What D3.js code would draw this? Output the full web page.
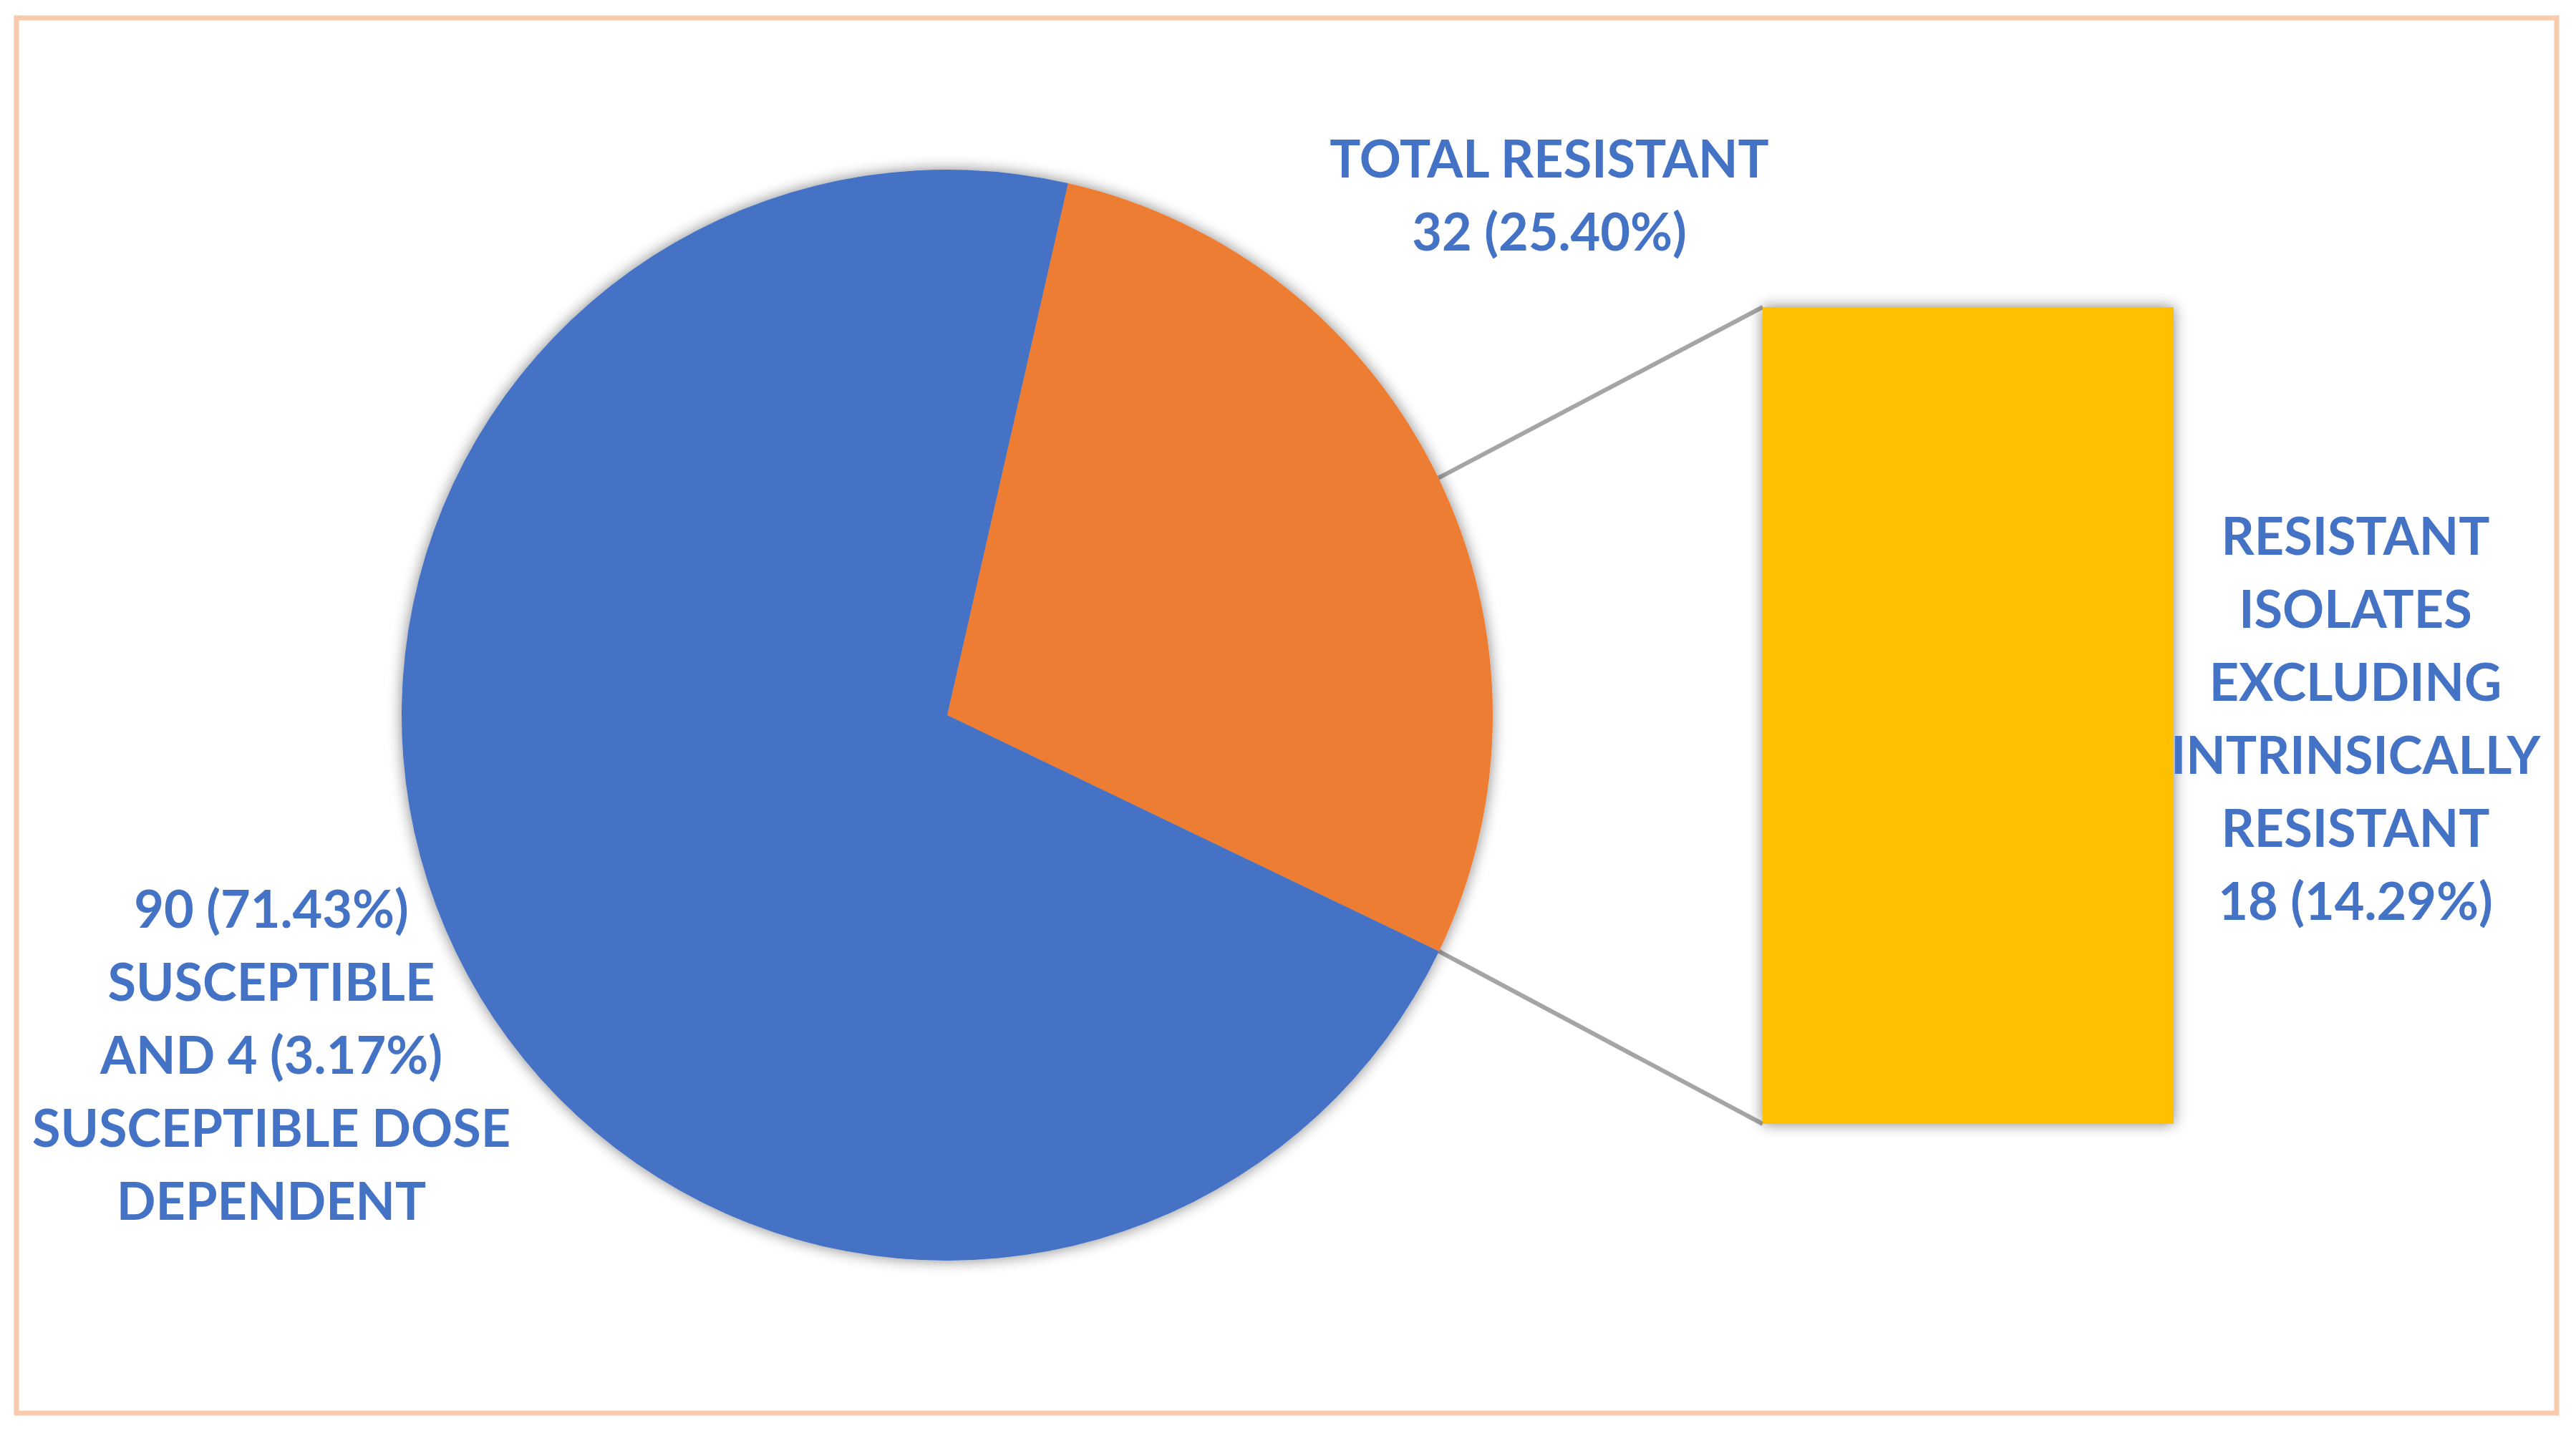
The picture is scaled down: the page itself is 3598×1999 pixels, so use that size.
<!DOCTYPE html>
<html>
<head>
<meta charset="utf-8">
<script src="https://cdn.jsdelivr.net/npm/d3@7"></script>
<style>
  html, body { margin: 0; padding: 0; background: #ffffff; }
  svg { display: block; }
  text { font-family: Lato, "Open Sans", sans-serif; font-weight: 700; fill: #4472C4; }
</style>
</head>
<body>
<script>
// ---------- data ----------
const sliceNames  = ["Other (SDD + resistant)", "Susceptible"];
const sliceValues = [36, 90];
const sliceColors = ["#ED7D31", "#4472C4"];

const barNames  = ["Resistant excluding intrinsically resistant"];
const barValues = [18];
const barColors = ["#FFC000"];

const pieLabelLines   = ["90 (71.43%)", "SUSCEPTIBLE", "AND 4 (3.17%)", "SUSCEPTIBLE DOSE", "DEPENDENT"];
const otherLabelLines = ["TOTAL RESISTANT", "32 (25.40%)"];
const barLabelLines   = ["RESISTANT", "ISOLATES", "EXCLUDING", "INTRINSICALLY", "RESISTANT", "18 (14.29%)"];

// ---------- layout ----------
const W = 3598, H = 1999;
const cx = 1323, cy = 999, R = 762;
const firstAngle = 12.8 * Math.PI / 180;
const barX0 = 2462, barX1 = 3036, barTop = 429, barBottom = 1570;
const lineGap = 102, fontSize = 72;

const svg = d3.select("body").append("svg").attr("width", W).attr("height", H);

const defs = svg.append("defs");
const f = defs.append("filter").attr("id", "sh").attr("x", "-20%").attr("y", "-20%").attr("width", "140%").attr("height", "140%");
f.append("feDropShadow").attr("dx", 0).attr("dy", 0).attr("stdDeviation", 10)
  .attr("flood-color", "#000").attr("flood-opacity", 0.48);

svg.append("rect").attr("width", W).attr("height", H).attr("fill", "#fff");

// border
svg.append("rect").attr("x", 23).attr("y", 25).attr("width", 3548).attr("height", 1949)
  .attr("fill", "none").attr("stroke", "#F8CBAD").attr("stroke-width", 7);

// pie
const pie = d3.pie().sort(null).value(d => d)
  .startAngle(firstAngle).endAngle(firstAngle + 2 * Math.PI);
const arcs = pie(sliceValues);
const arc = d3.arc().innerRadius(0).outerRadius(R);

// bar scale
const yBar = d3.scaleLinear().domain([0, d3.sum(barValues)]).range([barBottom, barTop]);

// connector lines: portion of "other" slice that the bar represents
const other = arcs[0];
const total = d3.sum(sliceValues);
const barShareAngle = d3.sum(barValues) / total * 2 * Math.PI;
const aTop = other.endAngle - barShareAngle;
const aBot = other.endAngle;
const pt = a => [cx + R * Math.sin(a), cy - R * Math.cos(a)];
const conn = svg.append("g").attr("stroke", "#A5A5A5").attr("stroke-width", 6).attr("fill", "none");
conn.append("line").attr("x1", pt(aTop)[0]).attr("y1", pt(aTop)[1]).attr("x2", barX0).attr("y2", yBar(d3.sum(barValues)));
conn.append("line").attr("x1", pt(aBot)[0]).attr("y1", pt(aBot)[1]).attr("x2", barX0).attr("y2", yBar(0));

const pg = svg.append("g").attr("transform", `translate(${cx},${cy})`).attr("filter", "url(#sh)");
pg.selectAll("path").data(arcs).join("path")
  .attr("d", arc).attr("fill", (d, i) => sliceColors[i]);

// bar
let acc = 0;
const stack = barValues.map(v => { const s = { y0: acc, y1: acc + v }; acc += v; return s; });
svg.append("g").attr("filter", "url(#sh)").selectAll("rect").data(stack).join("rect")
  .attr("x", barX0).attr("width", barX1 - barX0)
  .attr("y", d => yBar(d.y1)).attr("height", d => yBar(d.y0) - yBar(d.y1))
  .attr("fill", (d, i) => barColors[i]);

// labels
function block(lines, x, yFirst) {
  const t = svg.append("text").attr("text-anchor", "middle").attr("font-size", fontSize);
  lines.forEach((s, i) => t.append("tspan").attr("x", x).attr("y", yFirst + i * lineGap).text(s));
}
block(otherLabelLines, 2164, 248);
block(pieLabelLines, 379, 1296);
block(barLabelLines, 3290, 775);
</script>
</body>
</html>
